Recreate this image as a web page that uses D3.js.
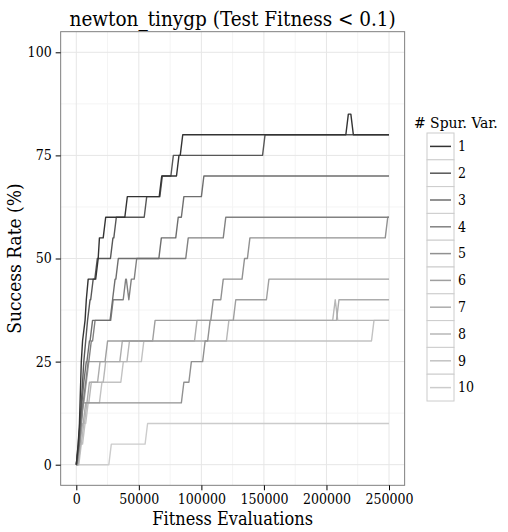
<!DOCTYPE html>
<html>
<head>
<meta charset="utf-8">
<script src="https://cdn.jsdelivr.net/npm/d3@7"></script>
<style>
  html, body { margin: 0; padding: 0; background: #fff; }
  svg text { font-family: "DejaVu Serif", "Liberation Serif", serif; font-stretch: condensed; }
</style>
</head>
<body>
<svg id="chart" width="508" height="532"></svg>
<script>
// Axis ticks
const evalTicks = [0, 50000, 100000, 150000, 200000, 250000];
const evalMinor = [25000, 75000, 125000, 175000, 225000];
const rateTicks = [0, 25, 50, 75, 100];
const rateMinor = [12.5, 37.5, 62.5, 87.5];

// Legend categories and their grey levels
const spurVars = ["1", "2", "3", "4", "5", "6", "7", "8", "9", "10"];
const greys = ["#333333", "#575757", "#6e6e6e", "#818181", "#919191",
               "#9f9f9f", "#acacac", "#b7b7b7", "#c2c2c2", "#cccccc"];

// Success rate (%) per number of spurious variables:
// [fitness evaluations at which the rate changes, new rate]
const spur1 = [[1500, 5], [2500, 10], [3000, 15], [3500, 20], [4000, 25], [5000, 30], [7000, 35],
               [8000, 40], [9500, 45], [17500, 50], [18500, 55], [23500, 60], [40800, 65],
               [68300, 70], [82100, 75], [85100, 80], [217500, 85], [221500, 80]];
const spur2 = [[2000, 5], [3000, 10], [4000, 15], [5000, 20], [6000, 25], [7500, 30], [9000, 35],
               [11000, 40], [13500, 45], [16800, 50], [29300, 55], [32000, 60], [56300, 65],
               [68800, 70], [77600, 75], [150900, 80]];
const spur3 = [[1500, 5], [3000, 10], [4500, 15], [6000, 20], [8000, 25], [10500, 30], [13000, 35],
               [29000, 40], [31000, 45], [33600, 50], [68000, 55], [81500, 60], [86000, 65],
               [102000, 70]];
const spur4 = [[2500, 5], [4000, 10], [5500, 15], [7500, 20], [9500, 25], [12000, 30], [15000, 35],
               [29500, 40], [39500, 45], [42000, 40], [44000, 45], [48300, 50], [89500, 55],
               [119500, 60]];
const spur5 = [[2000, 5], [3500, 10], [5500, 15], [86000, 20], [92000, 25], [103000, 30],
               [107000, 35], [109500, 40], [117500, 45], [134500, 50], [138800, 55], [249000, 60]];
const spur6 = [[2500, 5], [4000, 10], [5500, 15], [8000, 20], [10000, 25], [25000, 30],
               [63000, 35], [127500, 40], [154000, 45]];
const spur7 = [[3000, 5], [5000, 10], [7500, 15], [10500, 20], [19000, 25], [36800, 30],
               [96500, 35], [210000, 40]];
const spur8 = [[3500, 5], [6000, 10], [8500, 15], [12000, 20], [23500, 25], [42500, 30],
               [122000, 35], [207000, 40], [209000, 35]];
const spur9 = [[4000, 5], [7000, 10], [9500, 15], [20500, 20], [37600, 25], [54000, 30],
               [238000, 35]];
const spur10 = [[28000, 5], [57000, 10]];

const seriesChanges = [spur1, spur2, spur3, spur4, spur5, spur6, spur7, spur8, spur9, spur10];
const maxEvals = 250000;
const riser = 2000; // evaluations between consecutive generations

const svg = d3.select("#chart");

const x = d3.scaleLinear().domain([0, 250000]).range([76.3, 389]);
const y = d3.scaleLinear().domain([0, 100]).range([464.7, 52.3]);
const xL = x(-12500), xR = x(262500), yT = y(105), yB = y(-5);

// Panel background
svg.append("rect").attr("x", xL).attr("y", yT).attr("width", xR - xL).attr("height", yB - yT)
  .attr("fill", "#fff");

// Grid lines
const grid = svg.append("g");
grid.selectAll(".vminor").data(evalMinor).join("line")
  .attr("x1", d => x(d)).attr("x2", d => x(d)).attr("y1", yT).attr("y2", yB)
  .attr("stroke", "#f4f4f4").attr("stroke-width", 1);
grid.selectAll(".hminor").data(rateMinor).join("line")
  .attr("x1", xL).attr("x2", xR).attr("y1", d => y(d)).attr("y2", d => y(d))
  .attr("stroke", "#f4f4f4").attr("stroke-width", 1);
grid.selectAll(".vmajor").data(evalTicks).join("line")
  .attr("x1", d => x(d)).attr("x2", d => x(d)).attr("y1", yT).attr("y2", yB)
  .attr("stroke", "#e6e6e6").attr("stroke-width", 1);
grid.selectAll(".hmajor").data(rateTicks).join("line")
  .attr("x1", xL).attr("x2", xR).attr("y1", d => y(d)).attr("y2", d => y(d))
  .attr("stroke", "#e6e6e6").attr("stroke-width", 1);

// Build the path points for one series: flat runs joined by short risers
function stepPoints(changes) {
  const pts = [[0, 0]];
  let prev = 0, lastX = 0;
  changes.forEach(([ev, rate]) => {
    const start = Math.max(lastX, ev - riser);
    pts.push([start, prev]);
    pts.push([ev, rate]);
    prev = rate; lastX = ev;
  });
  pts.push([maxEvals, prev]);
  return pts;
}

const line = d3.line().x(d => x(d[0])).y(d => y(d[1]));

const lines = svg.append("g");
// lightest series drawn first so the darker ones sit on top
seriesChanges.map((c, i) => ({ i, c })).reverse().forEach(({ i, c }) => {
  lines.append("path")
    .attr("d", line(stepPoints(c)))
    .attr("fill", "none")
    .attr("stroke", greys[i])
    .attr("stroke-width", 1.4)
    .attr("stroke-linejoin", "round");
});

// Panel border
svg.append("rect").attr("x", xL).attr("y", yT).attr("width", xR - xL).attr("height", yB - yT)
  .attr("fill", "none").attr("stroke", "#7f7f7f").attr("stroke-width", 1);

// Axes
const xAxis = d3.axisBottom(x).tickValues(evalTicks).tickSize(5).tickPadding(4)
  .tickFormat(d3.format("d"));
const gx = svg.append("g").attr("transform", `translate(0,${yB})`).call(xAxis);
gx.select(".domain").remove();
gx.selectAll("text").attr("font-size", 14).attr("fill", "#000");

const yAxis = d3.axisLeft(y).tickValues(rateTicks).tickSize(5).tickPadding(4);
const gy = svg.append("g").attr("transform", `translate(${xL},0)`).call(yAxis);
gy.select(".domain").remove();
gy.selectAll("text").attr("font-size", 14).attr("fill", "#000");
svg.selectAll(".tick line").attr("stroke", "#000").attr("stroke-width", 1);
svg.selectAll(".tick text").attr("font-family", null);

// Titles
svg.append("text").attr("x", (xL + xR) / 2).attr("y", 26).attr("text-anchor", "middle")
  .attr("font-size", 20.5).text("newton_tinygp (Test Fitness < 0.1)");
svg.append("text").attr("x", (xL + xR) / 2).attr("y", 525).attr("text-anchor", "middle")
  .attr("font-size", 18).text("Fitness Evaluations");
svg.append("text").attr("transform", `translate(21,${(yT + yB) / 2}) rotate(-90)`)
  .attr("text-anchor", "middle").attr("font-size", 19).text("Success Rate (%)");

// Legend
const legend = svg.append("g");
legend.append("text").attr("x", 414).attr("y", 128).attr("font-size", 15.5).text("# Spur. Var.");
const keyX = 427, keyY0 = 133, keyH = 26.8, keyW = 27;
const keys = legend.selectAll(".key").data(spurVars).join("g")
  .attr("transform", (d, i) => `translate(${keyX},${keyY0 + i * keyH})`);
keys.append("rect").attr("x", 0).attr("y", 0).attr("width", keyW).attr("height", keyH)
  .attr("fill", "#fff").attr("stroke", "#cccccc").attr("stroke-width", 1);
keys.append("line").attr("x1", 3).attr("x2", keyW - 3).attr("y1", keyH / 2).attr("y2", keyH / 2)
  .attr("stroke", (d, i) => greys[i]).attr("stroke-width", 1.5);
keys.append("text").attr("x", keyW + 4).attr("y", keyH / 2).attr("dy", "0.35em")
  .attr("font-size", 14).text(d => d);
</script>
</body>
</html>
